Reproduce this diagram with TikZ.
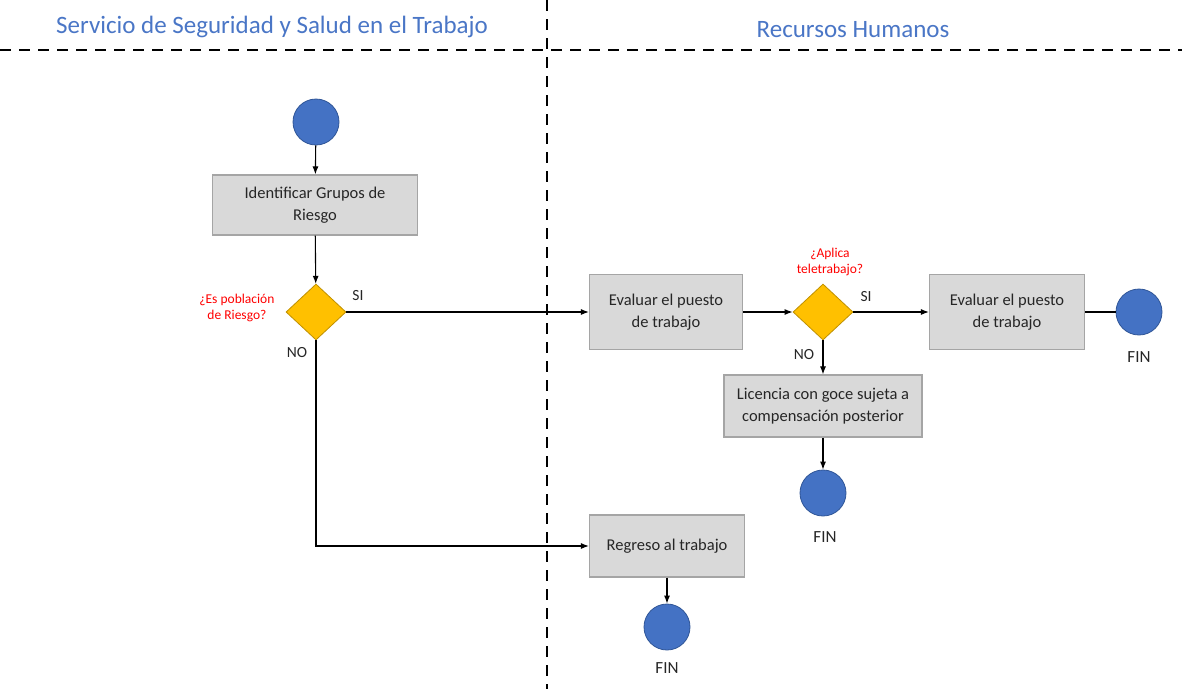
\documentclass[tikz,border=0pt]{standalone}
\usepackage{fontspec}
\setmainfont{Carlito}
\usetikzlibrary{shapes.geometric,arrows.meta}
\definecolor{boxfill}{HTML}{D9D9D9}
\definecolor{boxline}{HTML}{A5A5A5}
\definecolor{circfill}{HTML}{4472C4}
\definecolor{circline}{HTML}{2F5597}
\definecolor{diafill}{HTML}{FFC000}
\definecolor{dialine}{HTML}{BF9000}
\definecolor{titleblue}{HTML}{4A76C6}
\tikzset{
  proc/.style={draw=boxline, fill=boxfill, line width=1.2pt, minimum width=#1, align=center, inner sep=0pt, font=\fontsize{16.5}{22}\selectfont, text=black!85},
  proc/.default=155pt,
  startend/.style={circle, draw=circline, fill=circfill, line width=0.8pt, minimum size=46pt, inner sep=0pt},
  decision/.style={diamond, draw=dialine, fill=diafill, line width=0.8pt, minimum width=60pt, minimum height=56pt, inner sep=0pt},
  question/.style={text=red, font=\fontsize{13.5}{15.5}\selectfont, align=center},
  lbl/.style={font=\fontsize{15.5}{17}\selectfont, text=black!85},
  finlbl/.style={font=\fontsize{17}{19}\selectfont, text=black!85},
  swim/.style={line width=2.6pt, dash pattern=on 11pt off 8pt},
  flow/.style={line width=1.1pt, -{Latex[length=8pt,width=6pt]}},
  plain/.style={line width=1.1pt},
  title/.style={font=\fontsize{25}{29}\selectfont, text=titleblue}
}
\begin{document}
\begin{tikzpicture}[x=1pt,y=-1pt]
\useasboundingbox (0,0) rectangle (1182,689);
% swimlanes
\coordinate (hl) at (0,50);
\coordinate (hr) at (1182,50);
\coordinate (vt) at (547,0);
\coordinate (vb) at (547,689);
\draw[swim] (hl) -- (hr);
\draw[swim] (vt) -- (vb);
\node[title] (t1) at (272,27) {Servicio de Seguridad y Salud en el Trabajo};
\node[title] (t2) at (853,30) {Recursos Humanos};
% nodes
\node[startend] (start) at (316,122) {};
\node[proc=205pt, minimum height=60pt] (b1) at (315,205) {Identificar Grupos de\\Riesgo};
\node[decision] (d1) at (316,312) {};
\node[question, anchor=east] (q1) at (278,308) {¿Es población\\de Riesgo?};
\node[lbl] (si1) at (358,296) {SI};
\node[lbl] (no1) at (297,353) {NO};
\node[proc=153pt, minimum height=75pt] (b2) at (666,312) {Evaluar el puesto\\de trabajo};
\node[decision] (d2) at (823,312) {};
\node[question] (q2) at (830,262) {¿Aplica\\teletrabajo?};
\node[lbl] (si2) at (866,297) {SI};
\node[lbl] (no2) at (804,355) {NO};
\node[proc=155pt, minimum height=75pt] (b3) at (1007,312) {Evaluar el puesto\\de trabajo};
\node[startend] (e1) at (1139,312) {};
\node[finlbl] (f1) at (1139,357) {FIN};
\node[proc=198pt, minimum height=62pt] (b4) at (823,406) {Licencia con goce sujeta a\\compensación posterior};
\node[startend] (e2) at (823,493) {};
\node[finlbl] (f2) at (825,537) {FIN};
\node[proc=155pt, minimum height=62pt] (b5) at (667,546) {Regreso al trabajo};
\node[startend] (e3) at (667,627) {};
\node[finlbl] (f3) at (667,668) {FIN};
% connectors
\draw[flow] (start) -- (b1);
\draw[flow] (b1) -- (d1);
\draw[flow] (d1.east) -- (b2.west);
\draw[flow] (b2.east) -- (d2.west);
\draw[flow] (d2.east) -- (b3.west);
\draw[plain] (b3.east) -- (e1.west);
\draw[flow] (d2.south) -- (b4.north);
\draw[flow] (b4.south) -- (e2.north);
\draw[flow] (d1.south) |- (b5.west);
\draw[flow] (b5.south) -- (e3.north);
\end{tikzpicture}
\end{document}
